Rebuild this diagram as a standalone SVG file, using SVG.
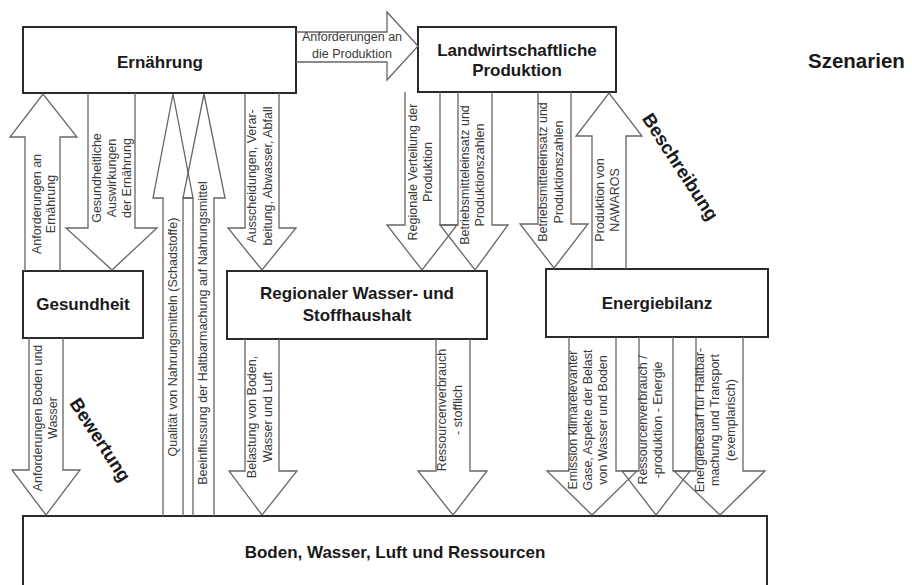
<svg xmlns="http://www.w3.org/2000/svg" width="912" height="585" viewBox="0 0 912 585">
<style>
.box{fill:#fff;stroke:#2a2a2a;stroke-width:2}
.arr{fill:none;stroke:#666;stroke-width:1.3;stroke-linejoin:miter}
.t{font-family:"Liberation Sans",Arial,sans-serif;font-weight:bold;font-size:17px;fill:#1a1a1a;text-anchor:middle}
.l{font-family:"Liberation Sans",Arial,sans-serif;font-size:12.5px;fill:#3a3a3a;text-anchor:middle}
</style>
<rect width="912" height="585" fill="#fff"/>
<g id="nodes">
  <g id="ernaehrung"><rect class="box" x="23" y="27" width="273" height="66"/><text class="t" x="160" y="68">Ernährung</text></g>
  <g id="landwirtschaft"><rect class="box" x="418" y="27" width="198" height="65"/><text class="t" x="517" y="56">Landwirtschaftliche</text><text class="t" x="517" y="76">Produktion</text></g>
  <g id="gesundheit"><rect class="box" x="23" y="271" width="120" height="67"/><text class="t" x="83" y="310">Gesundheit</text></g>
  <g id="regional"><rect class="box" x="227" y="271" width="260" height="68"/><text class="t" x="357" y="299">Regionaler Wasser- und</text><text class="t" x="357" y="321">Stoffhaushalt</text></g>
  <g id="energie"><rect class="box" x="546" y="269" width="222" height="68"/><text class="t" x="657" y="309">Energiebilanz</text></g>
  <g id="boden"><rect class="box" x="23" y="516" width="744" height="80"/><text class="t" x="395" y="558">Boden, Wasser, Luft und Ressourcen</text></g>
  <g id="szenarien"><text class="t" x="808" y="68" style="text-anchor:start;font-size:20.5px">Szenarien</text></g>
  <g id="beschreibung"><text class="t" transform="translate(680,167) rotate(57)" y="6" style="font-size:18.5px">Beschreibung</text></g>
  <g id="bewertung"><text class="t" transform="translate(100,440) rotate(57)" y="6" style="font-size:18.5px">Bewertung</text></g>
</g>
<g id="connectors">
  <polyline class="arr" points="296,32 387,32 387,12 418,46 387,80 387,62 296,62"/>
  <text class="l" x="352" y="41">Anforderungen an</text>
  <text class="l" x="352" y="58">die Produktion</text>

  <polyline class="arr" points="25,271 25,137 10,137 43,94 77,137 60,137 60,271"/>
  <text class="l" transform="rotate(-90)"><tspan x="-204" y="41">Anforderungen an</tspan><tspan x="-204" y="55">Ernährung</tspan></text>

  <polyline class="arr" points="88,93 88,228 66,228 112,270 157,228 135,228 135,93"/>
  <text class="l" transform="rotate(-90)"><tspan x="-178" y="101">Gesundheitliche</tspan><tspan x="-178" y="116">Auswirkungen</tspan><tspan x="-178" y="131">der Ernährung</tspan></text>

  <polyline class="arr" points="163,516 163,198 153,198 173,94 193,198 183,198 183,516"/>
  <text class="l" transform="rotate(-90)"><tspan x="-337" y="177">Qualität von Nahrungsmitteln (Schadstoffe)</tspan></text>

  <polyline class="arr" points="193,516 193,198 183,198 204,94 225,198 214,198 214,516"/>
  <text class="l" transform="rotate(-90)"><tspan x="-333" y="207">Beeinflussung der Haltbarmachung auf Nahrungsmittel</tspan></text>

  <polyline class="arr" points="245,93 245,228 228,228 262,270 296,228 279,228 279,93"/>
  <text class="l" transform="rotate(-90)"><tspan x="-176" y="256">Ausscheidungen, Verar-</tspan><tspan x="-176" y="272">beitung, Abwasser, Abfall</tspan></text>

  <polyline class="arr" points="405,92 405,225 387,225 422,270 457,225 440,225 440,92"/>
  <text class="l" transform="rotate(-90)"><tspan x="-172" y="417">Regionale Verteilung der</tspan><tspan x="-172" y="432">Produktion</tspan></text>

  <polyline class="arr" points="458,92 458,225 440,225 475,270 508,225 492,225 492,92"/>
  <text class="l" transform="rotate(-90)"><tspan x="-175" y="469">Betriebsmitteleinsatz und</tspan><tspan x="-175" y="484">Produktionszahlen</tspan></text>

  <polyline class="arr" points="538,92 538,224 520,224 554,268 588,224 571,224 571,92"/>
  <text class="l" transform="rotate(-90)"><tspan x="-172" y="547">Betriebsmitteleinsatz und</tspan><tspan x="-172" y="563">Produktionszahlen</tspan></text>

  <polyline class="arr" points="592,269 592,136 576,136 609,93 642,136 626,136 626,269"/>
  <text class="l" transform="rotate(-90)"><tspan x="-200" y="604">Produktion von</tspan><tspan x="-200" y="619">NAWAROS</tspan></text>

  <polyline class="arr" points="29,338 29,470 12,470 46,515 80,470 63,470 63,338"/>
  <text class="l" transform="rotate(-90)"><tspan x="-418" y="42">Anforderungen Boden und</tspan><tspan x="-418" y="57">Wasser</tspan></text>

  <polyline class="arr" points="245,339 245,471 229,471 262,515 297,471 279,471 279,339"/>
  <text class="l" transform="rotate(-90)"><tspan x="-417" y="256">Belastung von Boden,</tspan><tspan x="-417" y="272">Wasser und Luft</tspan></text>

  <polyline class="arr" points="436,339 436,471 418,471 453,515 487,471 470,471 470,339"/>
  <text class="l" transform="rotate(-90)"><tspan x="-410" y="446">Ressourcenverbrauch</tspan><tspan x="-410" y="462">- stofflich</tspan></text>

  <polyline class="arr" points="569,337 569,471 547,471 592,515 637,471 616,471 616,337"/>
  <text class="l" transform="rotate(-90)"><tspan x="-420" y="577">Emission klimarelevanter</tspan><tspan x="-420" y="592">Gase, Aspekte der Belast</tspan><tspan x="-420" y="607">von Wasser und Boden</tspan></text>

  <polyline class="arr" points="639,337 639,471 622,471 656,515 690,471 673,471 673,337"/>
  <text class="l" transform="rotate(-90)"><tspan x="-420" y="647">Ressourcenverbrauch /</tspan><tspan x="-420" y="662">-produktion - Energie</tspan></text>

  <polyline class="arr" points="696,337 696,471 674,471 720,515 765,471 743,471 743,337"/>
  <text class="l" transform="rotate(-90)"><tspan x="-420" y="704">Energiebedarf für Haltbar-</tspan><tspan x="-420" y="719">machung und Transport</tspan><tspan x="-420" y="735">(exemplarisch)</tspan></text>
</g>
</svg>
